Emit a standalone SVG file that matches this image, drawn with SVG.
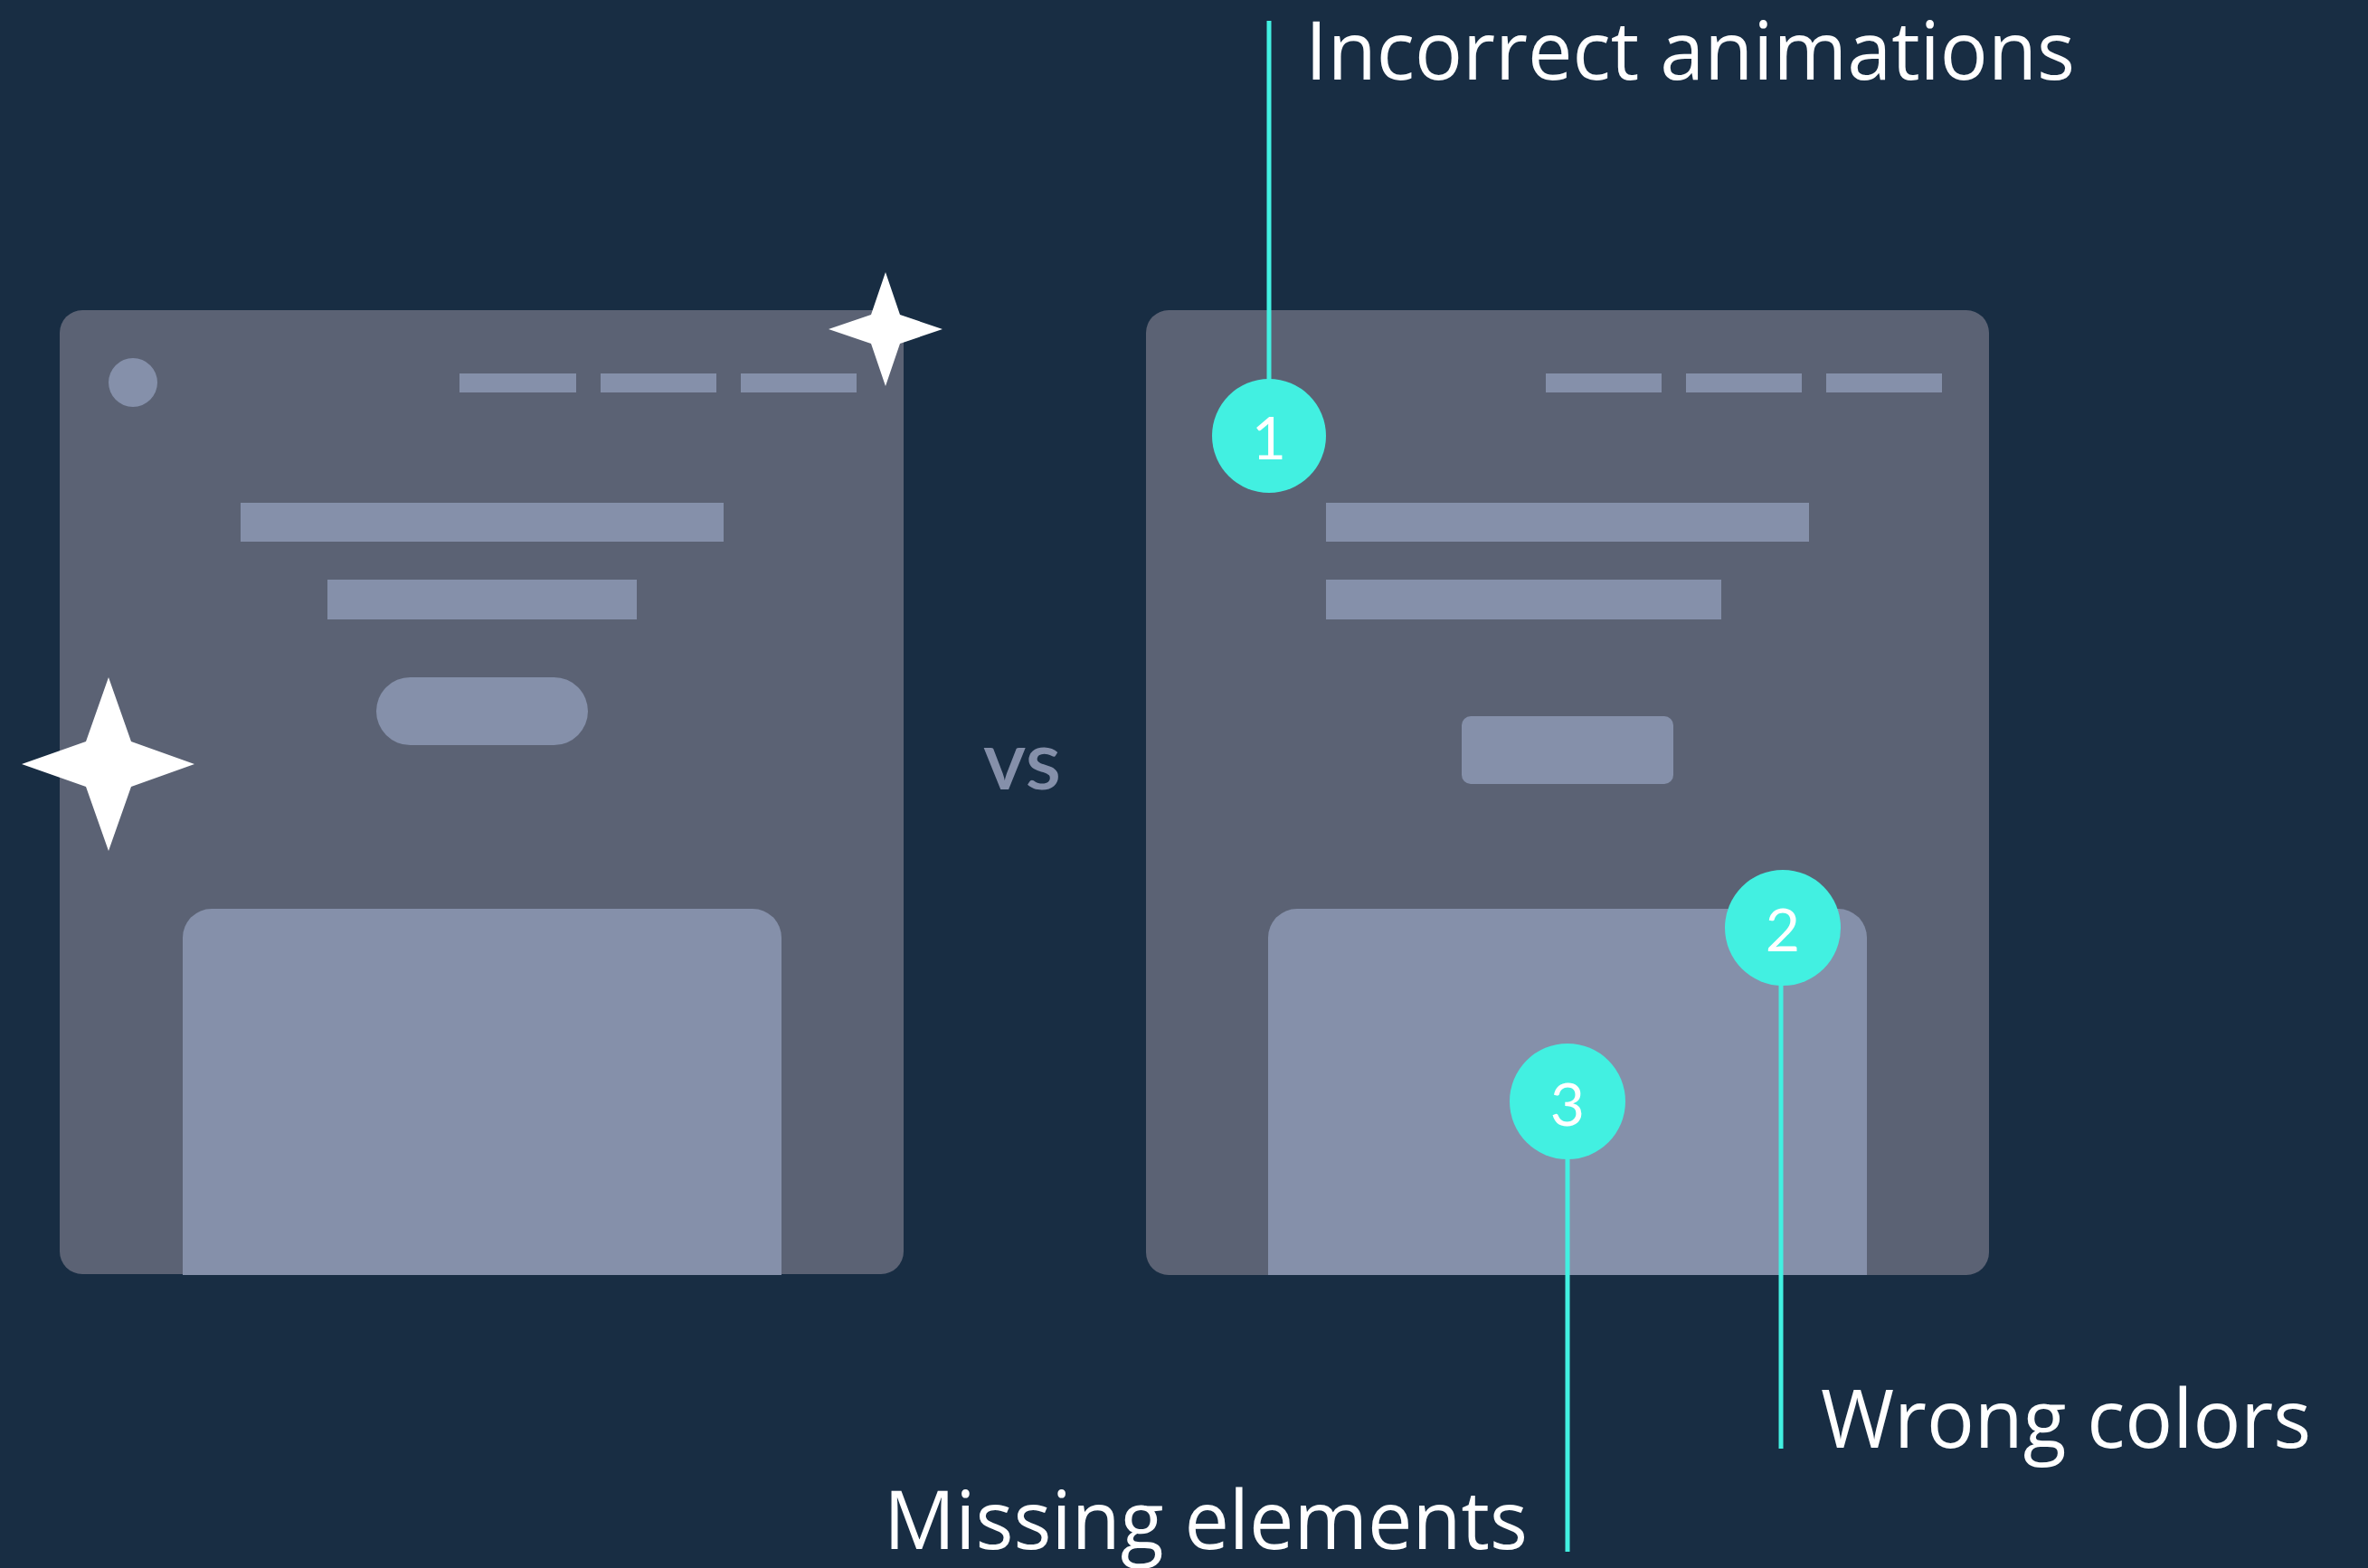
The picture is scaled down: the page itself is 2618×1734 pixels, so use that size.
<svg xmlns="http://www.w3.org/2000/svg" width="2618" height="1734" viewBox="0 0 2618 1734">
  <style>
    .panel { fill: #5b6274; }
    .light { fill: #8590aa; }
    .star { fill: #ffffff; }
    .badge { fill: #42f0e1; }
    .num { fill: #ffffff; font-family: Lato, "Open Sans", sans-serif; font-size: 66px; text-anchor: middle; }
    .label { fill: #ffffff; font-family: "Open Sans", "Noto Sans", sans-serif; font-size: 90px; }
    .vs { fill: #8590aa; font-family: Lato, "Open Sans", sans-serif; font-size: 90px; font-weight: 600; }
    .conn { stroke: #42f0e1; stroke-width: 5; fill: none; }
  </style>
  <rect x="0" y="0" width="2618" height="1734" fill="#182d43"/>

  <g id="left-page">
    <rect class="panel" x="66" y="343" width="933" height="1066" rx="25"/>
    <circle class="light" cx="147" cy="423" r="27"/>
    <rect class="light" x="508" y="413" width="129" height="21"/>
    <rect class="light" x="664" y="413" width="128" height="21"/>
    <rect class="light" x="819" y="413" width="128" height="21"/>
    <rect class="light" x="266" y="556" width="534" height="43"/>
    <rect class="light" x="362" y="641" width="342" height="44"/>
    <rect class="light" x="416" y="749" width="234" height="75" rx="37.5"/>
    <rect class="light" x="202" y="1005" width="662" height="100" rx="32"/>
    <rect class="light" x="202" y="1067" width="662" height="343"/>
  </g>

  <g id="sparkles">
    <path class="star" d="M979,301 L995,348 L1042,364 L995,380 L979,427 L963,380 L916,364 L963,348 Z"/>
    <path class="star" d="M120,749 L145,820 L215,845 L145,870 L120,941 L95,870 L24,845 L95,820 Z"/>
  </g>

  <g id="vs-label">
    <text class="vs" x="1087" y="873" textLength="86" lengthAdjust="spacingAndGlyphs">vs</text>
  </g>

  <g id="right-page">
    <rect class="panel" x="1267" y="343" width="932" height="1067" rx="25"/>
    <rect class="light" x="1709" y="413" width="128" height="21"/>
    <rect class="light" x="1864" y="413" width="128" height="21"/>
    <rect class="light" x="2019" y="413" width="128" height="21"/>
    <rect class="light" x="1466" y="556" width="534" height="43"/>
    <rect class="light" x="1466" y="641" width="437" height="44"/>
    <rect class="light" x="1616" y="792" width="234" height="75" rx="10"/>
    <rect class="light" x="1402" y="1005" width="662" height="100" rx="32"/>
    <rect class="light" x="1402" y="1067" width="662" height="343"/>
  </g>

  <g id="connectors">
    <line class="conn" x1="1403" y1="23" x2="1403" y2="420"/>
    <line class="conn" x1="1969" y1="1088" x2="1969" y2="1602"/>
    <line class="conn" x1="1733" y1="1280" x2="1733" y2="1716"/>
  </g>

  <g id="badge-1">
    <circle class="badge" cx="1403" cy="482" r="63"/>
    <text class="num" x="1403" y="508">1</text>
  </g>
  <g id="badge-2">
    <circle class="badge" cx="1971" cy="1026" r="64"/>
    <text class="num" x="1971" y="1052">2</text>
  </g>
  <g id="badge-3">
    <circle class="badge" cx="1733" cy="1218" r="64"/>
    <text class="num" x="1733" y="1245">3</text>
  </g>

  <g id="label-1">
    <text class="label" x="1443" y="88" textLength="851" lengthAdjust="spacingAndGlyphs">Incorrect animations</text>
  </g>
  <g id="label-2">
    <text class="label" x="2013" y="1601" textLength="542" lengthAdjust="spacingAndGlyphs">Wrong colors</text>
  </g>
  <g id="label-3">
    <text class="label" x="977" y="1713" textLength="712" lengthAdjust="spacingAndGlyphs">Missing elements</text>
  </g>
</svg>
